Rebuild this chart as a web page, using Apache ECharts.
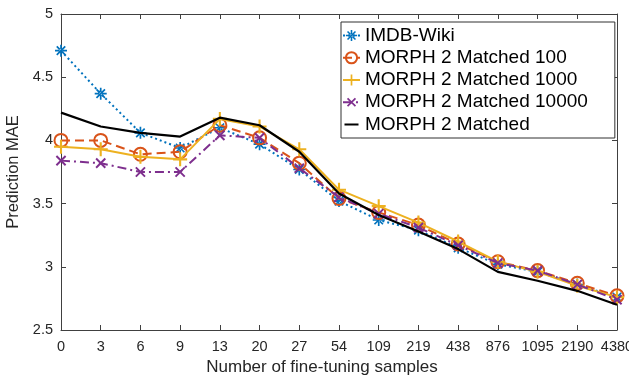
<!DOCTYPE html>
<html>
<head>
<meta charset="utf-8">
<script src="https://cdn.jsdelivr.net/npm/echarts@6/dist/echarts.min.js"></script>
<style>
html,body{margin:0;padding:0;background:#fff;}
#chart{width:629px;height:375px;}
</style>
</head>
<body>
<div id="chart"></div>
<script>
var categories = ['0','3','6','9','13','20','27','54','109','219','438','876','1095','2190','4380'];
var imdbWiki   = [4.71, 4.37, 4.06, 3.94, 4.10, 3.97, 3.77, 3.52, 3.37, 3.29, 3.15, 3.02, 2.96, 2.86, 2.76];
var matched100 = [4.00, 4.00, 3.89, 3.91, 4.12, 4.02, 3.82, 3.54, 3.43, 3.33, 3.18, 3.04, 2.97, 2.87, 2.77];
var matched1000 = [3.95, 3.93, 3.87, 3.85, 4.17, 4.11, 3.93, 3.61, 3.48, 3.35, 3.20, 3.04, 2.96, 2.85, 2.76];
var matched10000 = [3.84, 3.82, 3.75, 3.75, 4.04, 4.02, 3.78, 3.55, 3.42, 3.31, 3.17, 3.03, 2.97, 2.86, 2.74];
var matchedAll = [4.22, 4.11, 4.06, 4.03, 4.18, 4.12, 3.91, 3.58, 3.41, 3.28, 3.14, 2.96, 2.89, 2.81, 2.70];
var seriesNames = ['IMDB-Wiki','MORPH 2 Matched 100','MORPH 2 Matched 1000','MORPH 2 Matched 10000','MORPH 2 Matched'];

var FONT = '"Liberation Sans", Arial, Helvetica, sans-serif';
var AX = '#404040';
var PLUS = 'path://M-1.5,-10 L1.5,-10 L1.5,10 L-1.5,10 Z M-10,-1.5 L10,-1.5 L10,1.5 L-10,1.5 Z';
var STAR = 'path://M-1.4,-10 L1.4,-10 L1.4,10 L-1.4,10 Z M-10,-1.4 L10,-1.4 L10,1.4 L-10,1.4 Z M6.08,8.06 L8.06,6.08 L-6.08,-8.06 L-8.06,-6.08 Z M-6.08,8.06 L-8.06,6.08 L6.08,-8.06 L8.06,-6.08 Z';
var LINE_ICON = 'path://M0,0 L0.001,0 Z M0,20 L0.001,20 Z M0,8.5 L20,8.5 L20,11.5 L0,11.5 Z';

var chart = echarts.init(document.getElementById('chart'), null, {renderer:'canvas'});
var option = {
  animation: false,
  textStyle: {fontFamily: FONT},
  grid: {left: 61, right: 12, top: 14, bottom: 45, containLabel: false, outerBoundsMode: 'none'},
  legend: {
    orient: 'vertical', left: 341, top: 22,
    padding: [4, 27, 4, 1],
    itemWidth: 17, itemHeight: 14, itemGap: 3.25,
    borderColor: '#303030', borderWidth: 1, backgroundColor: '#fff',
    textStyle: {fontSize: 19, color: '#000', fontFamily: FONT},
    data: [
      {name: seriesNames[0]},
      {name: seriesNames[1]},
      {name: seriesNames[2]},
      {name: seriesNames[3]},
      {name: seriesNames[4], icon: LINE_ICON}
    ]
  },
  xAxis: [{
    type: 'category', data: categories, boundaryGap: false,
    axisLine: {lineStyle: {color: AX, width: 1}},
    axisTick: {inside: true, length: 5, alignWithLabel: true, interval: 0, lineStyle: {color: AX}},
    axisLabel: {interval: 0, fontSize: 14.5, color: '#262626', margin: 9, fontFamily: FONT},
    splitLine: {show: false},
    name: 'Number of fine-tuning samples', nameLocation: 'middle', nameGap: 29,
    nameTextStyle: {fontSize: 17, color: '#262626', fontFamily: FONT, padding: [0, 34, 0, 0]}
  },{
    type: 'category', data: categories, boundaryGap: false, position: 'top',
    axisLine: {lineStyle: {color: AX, width: 1}},
    axisTick: {inside: true, length: 5, alignWithLabel: true, interval: 0, lineStyle: {color: AX}},
    axisLabel: {show: false}, splitLine: {show: false}
  }],
  yAxis: [{
    type: 'value', min: 2.5, max: 5, interval: 0.5,
    axisLine: {show: true, lineStyle: {color: AX, width: 1}},
    axisTick: {show: true, inside: true, length: 5, lineStyle: {color: AX}},
    axisLabel: {fontSize: 14.5, color: '#262626', margin: 8, fontFamily: FONT},
    splitLine: {show: false},
    name: 'Prediction MAE', nameLocation: 'middle', nameGap: 35,
    nameTextStyle: {fontSize: 16.5, color: '#262626', fontFamily: FONT}
  },{
    type: 'value', min: 2.5, max: 5, interval: 0.5, position: 'right',
    axisLine: {show: true, lineStyle: {color: AX, width: 1}},
    axisTick: {show: true, inside: true, length: 5, lineStyle: {color: AX}},
    axisLabel: {show: false}, splitLine: {show: false}
  }],
  series: [
    {
      name: seriesNames[0], type: 'line', data: imdbWiki,
      symbol: STAR, symbolSize: 12,
      itemStyle: {color: '#0072BD', borderWidth: 0},
      lineStyle: {color: '#0072BD', width: 2, type: [2, 3]},
      z: 2
    },
    {
      name: seriesNames[1], type: 'line', data: matched100,
      symbol: 'circle', symbolSize: 13,
      itemStyle: {color: 'rgba(255,255,255,0)', borderColor: '#D95319', borderWidth: 2},
      lineStyle: {color: '#D95319', width: 2, type: [9, 5]},
      z: 3
    },
    {
      name: seriesNames[2], type: 'line', data: matched1000,
      symbol: PLUS, symbolSize: 14,
      itemStyle: {color: '#EDB120', borderWidth: 0},
      lineStyle: {color: '#EDB120', width: 2, type: 'solid'},
      z: 4
    },
    {
      name: seriesNames[3], type: 'line', data: matched10000,
      symbol: PLUS, symbolSize: 13, symbolRotate: 45,
      itemStyle: {color: '#7E2F8E', borderWidth: 0},
      lineStyle: {color: '#7E2F8E', width: 2, type: [9, 4, 2, 4]},
      z: 5
    },
    {
      name: seriesNames[4], type: 'line', data: matchedAll,
      symbol: 'none', showSymbol: false,
      itemStyle: {color: '#000000'},
      lineStyle: {color: '#000000', width: 2.2, type: 'solid'},
      z: 6
    }
  ]
};
chart.setOption(option);
</script>
</body>
</html>
